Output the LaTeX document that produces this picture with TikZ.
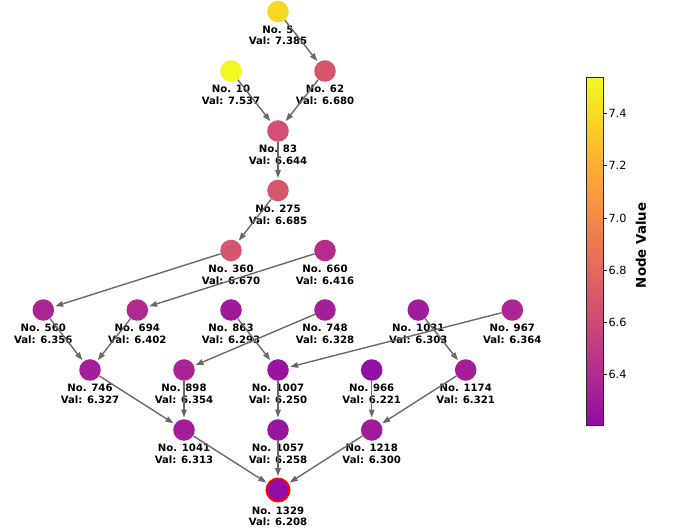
\documentclass[tikz,border=0pt]{standalone}
\usepackage{fontspec}
\setmainfont{DejaVu Sans}
\usetikzlibrary{arrows.meta}

\definecolor{edgegray}{RGB}{105, 105, 105}
\definecolor{hilite}{RGB}{255, 0, 0}
% plasma stops (0.3 ... 1.0)
\definecolor{p30}{RGB}{143, 13, 164}
\definecolor{p40}{RGB}{177, 42, 144}
\definecolor{p50}{RGB}{204, 71, 120}
\definecolor{p60}{RGB}{225, 100, 98}
\definecolor{p70}{RGB}{242, 132, 75}
\definecolor{p80}{RGB}{252, 166, 54}
\definecolor{p90}{RGB}{252, 206, 37}
\definecolor{p100}{RGB}{240, 249, 33}
% node colours
\definecolor{c5}{RGB}{250, 215, 36}
\definecolor{c10}{RGB}{240, 249, 33}
\definecolor{c62}{RGB}{214, 85, 109}
\definecolor{c83}{RGB}{210, 80, 114}
\definecolor{c275}{RGB}{214, 86, 109}
\definecolor{c360}{RGB}{213, 84, 110}
\definecolor{c660}{RGB}{180, 45, 142}
\definecolor{c560}{RGB}{170, 36, 148}
\definecolor{c694}{RGB}{177, 42, 144}
\definecolor{c863}{RGB}{158, 26, 155}
\definecolor{c748}{RGB}{164, 31, 151}
\definecolor{c1031}{RGB}{160, 28, 154}
\definecolor{c967}{RGB}{171, 37, 148}
\definecolor{c746}{RGB}{164, 31, 151}
\definecolor{c898}{RGB}{169, 35, 149}
\definecolor{c1007}{RGB}{151, 19, 160}
\definecolor{c966}{RGB}{145, 15, 163}
\definecolor{c1174}{RGB}{163, 30, 152}
\definecolor{c1041}{RGB}{162, 29, 153}
\definecolor{c1057}{RGB}{152, 21, 159}
\definecolor{c1218}{RGB}{159, 27, 155}
\definecolor{c1329}{RGB}{143, 13, 164}

\pgfdeclareverticalshading{plasmabar}{100bp}{color(0bp)=(p30); color(25bp)=(p30);
  color(32.14bp)=(p40); color(39.29bp)=(p50); color(46.43bp)=(p60);
  color(53.57bp)=(p70); color(60.71bp)=(p80); color(67.86bp)=(p90);
  color(75bp)=(p100); color(100bp)=(p100)}

\begin{document}
\begin{tikzpicture}[x=0.72pt, y=-0.72pt,
    vnode/.style={circle, minimum size=15.5pt, inner sep=0pt},
    vlabel/.style={font=\fontsize{7.3}{8.4}\selectfont\bfseries, align=center, inner sep=0pt, yshift=-2.2pt},
    edge/.style={-{Triangle[length=5.8pt, width=4pt]}, edgegray, line width=1pt, shorten >=1pt},
    ticklbl/.style={font=\fontsize{8.1}{9}\selectfont, anchor=west, inner sep=0pt}]
  \useasboundingbox (0, 0) rectangle (676, 529);

  % Nodes, top to bottom
  \node[vnode, fill=c5, label={[vlabel]below:{No. 5\\Val: 7.385}}] (n5) at (278, 11.5) {};
  \node[vnode, fill=c10, label={[vlabel]below:{No. 10\\Val: 7.537}}] (n10) at (231, 71) {};
  \node[vnode, fill=c62, label={[vlabel]below:{No. 62\\Val: 6.680}}] (n62) at (325, 71) {};
  \node[vnode, fill=c83, label={[vlabel]below:{No. 83\\Val: 6.644}}] (n83) at (278, 131) {};
  \node[vnode, fill=c275, label={[vlabel]below:{No. 275\\Val: 6.685}}] (n275) at (278, 190.5) {};
  \node[vnode, fill=c360, label={[vlabel]below:{No. 360\\Val: 6.670}}] (n360) at (231, 250.5) {};
  \node[vnode, fill=c660, label={[vlabel]below:{No. 660\\Val: 6.416}}] (n660) at (325, 250.5) {};

  \node[vnode, fill=c560, label={[vlabel]below:{No. 560\\Val: 6.356}}] (n560) at (43.3, 310) {};
  \node[vnode, fill=c694, label={[vlabel]below:{No. 694\\Val: 6.402}}] (n694) at (137.3, 310) {};
  \node[vnode, fill=c863, label={[vlabel]below:{No. 863\\Val: 6.293}}] (n863) at (231, 310) {};
  \node[vnode, fill=c748, label={[vlabel]below:{No. 748\\Val: 6.328}}] (n748) at (325, 310) {};
  \node[vnode, fill=c1031, label={[vlabel]below:{No. 1031\\Val: 6.303}}] (n1031) at (418.3, 310) {};
  \node[vnode, fill=c967, label={[vlabel]below:{No. 967\\Val: 6.364}}] (n967) at (512.3, 310) {};

  \node[vnode, fill=c746, label={[vlabel]below:{No. 746\\Val: 6.327}}] (n746) at (90, 370) {};
  \node[vnode, fill=c898, label={[vlabel]below:{No. 898\\Val: 6.354}}] (n898) at (184, 370) {};
  \node[vnode, fill=c1007, label={[vlabel]below:{No. 1007\\Val: 6.250}}] (n1007) at (278, 370) {};
  \node[vnode, fill=c966, label={[vlabel]below:{No. 966\\Val: 6.221}}] (n966) at (371.7, 370) {};
  \node[vnode, fill=c1174, label={[vlabel]below:{No. 1174\\Val: 6.321}}] (n1174) at (465.7, 370) {};

  \node[vnode, fill=c1041, label={[vlabel]below:{No. 1041\\Val: 6.313}}] (n1041) at (184, 430) {};
  \node[vnode, fill=c1057, label={[vlabel]below:{No. 1057\\Val: 6.258}}] (n1057) at (278, 430) {};
  \node[vnode, fill=c1218, label={[vlabel]below:{No. 1218\\Val: 6.300}}] (n1218) at (371.7, 430) {};

  \node[vnode, fill=c1329, draw=hilite, line width=1.4pt, minimum size=16.5pt,
    label={[vlabel, yshift=-0.6pt]below:{No. 1329\\Val: 6.208}}] (n1329) at (278, 490) {};

  % Edges
  \draw[edge] (n5) -- (n62);
  \draw[edge] (n10) -- (n83);
  \draw[edge] (n62) -- (n83);
  \draw[edge] (n83) -- (n275);
  \draw[edge] (n275) -- (n360);
  \draw[edge] (n360) -- (n560);
  \draw[edge] (n660) -- (n694);
  \draw[edge] (n560) -- (n746);
  \draw[edge] (n694) -- (n746);
  \draw[edge] (n863) -- (n1007);
  \draw[edge] (n748) -- (n898);
  \draw[edge] (n967) -- (n1007);
  \draw[edge] (n1031) -- (n1174);
  \draw[edge] (n746) -- (n1041);
  \draw[edge] (n898) -- (n1041);
  \draw[edge] (n1007) -- (n1057);
  \draw[edge] (n966) -- (n1218);
  \draw[edge] (n1174) -- (n1218);
  \draw[edge] (n1041) -- (n1329);
  \draw[edge] (n1057) -- (n1329);
  \draw[edge] (n1218) -- (n1329);

  % Colour bar
  \shade[shading=plasmabar] (586, 77.7) rectangle (603, 425);
  \draw[line width=0.6pt, black!85] (586, 77.7) rectangle (603, 425);
  \draw[line width=0.6pt] (603, 374.8) -- (606.5, 374.8) node[ticklbl, right=1.2pt] (t64) {6.4};
  \draw[line width=0.6pt] (603, 322.6) -- (606.5, 322.6) node[ticklbl, right=1.2pt] (t66) {6.6};
  \draw[line width=0.6pt] (603, 270.3) -- (606.5, 270.3) node[ticklbl, right=1.2pt] (t68) {6.8};
  \draw[line width=0.6pt] (603, 218.0) -- (606.5, 218.0) node[ticklbl, right=1.2pt] (t70) {7.0};
  \draw[line width=0.6pt] (603, 165.8) -- (606.5, 165.8) node[ticklbl, right=1.2pt] (t72) {7.2};
  \draw[line width=0.6pt] (603, 113.5) -- (606.5, 113.5) node[ticklbl, right=1.2pt] (t74) {7.4};
  \node[font=\fontsize{9.6}{10}\selectfont\bfseries, rotate=90] (cblabel) at (641, 245.5) {Node Value};
\end{tikzpicture}
\end{document}
